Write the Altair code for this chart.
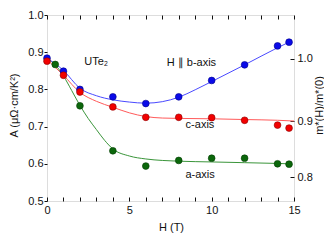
import altair as alt
import pandas as pd

# ---- data ----
H_b = [0, 1, 2, 4, 6, 8, 10, 12, 14, 14.7]
A_b = [0.884, 0.849, 0.800, 0.780, 0.762, 0.780, 0.824, 0.866, 0.917, 0.927]
H_c = [0, 1, 2, 4, 6, 8, 10, 12, 14, 14.7]
A_c = [0.876, 0.838, 0.793, 0.753, 0.725, 0.725, 0.724, 0.717, 0.704, 0.696]
H_a = [0.5, 2, 4, 6, 8, 10, 12, 14, 14.7]
A_a = [0.867, 0.756, 0.635, 0.594, 0.609, 0.615, 0.615, 0.600, 0.599]

# fit curves
Hb_fit = [0, 1, 2, 3, 4, 5, 6, 7, 8, 9, 10, 12, 14, 14.7]
Ab_fit = [0.884, 0.851, 0.803, 0.783, 0.772, 0.766, 0.763, 0.767, 0.779, 0.799, 0.821, 0.866, 0.912, 0.927]
Hc_fit = [0, 1, 2, 3, 4, 5, 6, 7, 8, 10, 12, 14, 15]
Ac_fit = [0.880, 0.838, 0.792, 0.768, 0.752, 0.737, 0.727, 0.723, 0.722, 0.721, 0.719, 0.717, 0.715]
Ha_fit = [0, 0.5, 1, 1.5, 2, 2.5, 3, 3.5, 4, 5, 6, 7, 8, 10, 12, 14, 14.7]
Aa_fit = [0.882, 0.866, 0.836, 0.797, 0.757, 0.722, 0.692, 0.663, 0.640, 0.621, 0.613, 0.609, 0.607, 0.605, 0.603, 0.601, 0.600]

x_ticks = list(range(0, 16))
y_ticks = [0.5, 0.6, 0.7, 0.8, 0.9, 1.0]
r_ticks = [0.8, 0.9, 1.0]      # right axis m*(H)/m*(0)
A0 = 0.882                     # A at H=0 used for m* ratio = sqrt(A/A0)

labels = ["UTe₂", "H ∥ b-axis", "c-axis", "a-axis"]
label_H = [2.99, 8.77, 9.29, 9.30]
label_A = [0.873, 0.871, 0.703, 0.570]

FONT = "Liberation Sans"
TXT = "#111111"

pts = pd.concat([
    pd.DataFrame({"H": H_a, "A": A_a, "s": "a"}),
    pd.DataFrame({"H": H_b, "A": A_b, "s": "b"}),
    pd.DataFrame({"H": H_c, "A": A_c, "s": "c"}),
])
fit = pd.concat([
    pd.DataFrame({"H": Ha_fit, "A": Aa_fit, "s": "a"}),
    pd.DataFrame({"H": Hc_fit, "A": Ac_fit, "s": "c"}),
    pd.DataFrame({"H": Hb_fit, "A": Ab_fit, "s": "b"}),
])
ann = pd.DataFrame({"t": labels, "H": label_H, "A": label_A})

xs = alt.Scale(domain=[0, 15], nice=False, zero=False)
ys = alt.Scale(domain=[0.5, 1.0], nice=False, zero=False)

common_axis = dict(labelFont=FONT, labelFontSize=11, labelColor=TXT, tickColor=TXT,
                   titleFont=FONT, titleFontSize=11, titleColor=TXT, titleFontWeight="normal",
                   domain=False, grid=False)

x_bottom = alt.Axis(orient="bottom", values=x_ticks, offset=-4, tickSize=4, labelPadding=3,
                    labelExpr="datum.value % 5 == 0 ? datum.label : ''", labelFlush=False,
                    labelOverlap=False, title="H (T)", titleX=124, titleY=30,
                    titleBaseline="middle", **common_axis)
x_top = alt.Axis(orient="top", values=x_ticks, offset=-4, tickSize=4, labels=False,
                 title=None, **{k: v for k, v in common_axis.items() if not k.startswith("title")})
y_left = alt.Axis(orient="left", values=y_ticks, format=".1f", tickSize=3, labelPadding=1,
                  title="A (μΩ·cm/K²)", titleX=-33, titleY=90, titleAngle=270,
                  titleBaseline="middle", titleAlign="center", **common_axis)
y_right = alt.Axis(orient="right", values=[A0 * r * r for r in r_ticks], offset=-4, tickSize=4,
                   labelPadding=3, labelExpr=f"format(sqrt(datum.value/{A0}), '.1f')",
                   title="m*(H)/m*(0)", titleX=29.5, titleY=90, titleAngle=270,
                   titleBaseline="middle", titleAlign="center", **common_axis)

line_colors = alt.Scale(domain=["a", "b", "c"], range=["#3a953a", "#4a4aff", "#ff5a5a"])
fill_colors = alt.Scale(domain=["a", "b", "c"], range=["#0b670b", "#0a0ae8", "#f20000"])
edge_colors = alt.Scale(domain=["a", "b", "c"], range=["#033d03", "#00008a", "#8a0000"])

lines = alt.Chart(fit).mark_line(strokeWidth=1, interpolate="monotone").encode(
    x=alt.X("H:Q", scale=xs, axis=x_bottom),
    y=alt.Y("A:Q", scale=ys, axis=y_left),
    color=alt.Color("s:N", scale=line_colors, legend=None),
    detail="s:N",
)

points = alt.Chart(pts).mark_point(filled=True, size=46, opacity=1, strokeWidth=0.6, shape="circle").encode(
    x=alt.X("H:Q", scale=xs, axis=None),
    y=alt.Y("A:Q", scale=ys, axis=None),
    fill=alt.Fill("s:N", scale=fill_colors, legend=None),
    stroke=alt.Stroke("s:N", scale=edge_colors, legend=None),
    order=alt.Order("s:N"),
)

top_axis = alt.Chart(pts).mark_point(opacity=0).encode(
    x=alt.X("H:Q", scale=xs, axis=x_top),
    y=alt.Y("A:Q", scale=ys, axis=y_right),
)

texts = alt.Chart(ann).mark_text(font=FONT, fontSize=11, color=TXT, align="center",
                                 baseline="middle").encode(
    x=alt.X("H:Q", scale=xs, axis=None),
    y=alt.Y("A:Q", scale=ys, axis=None),
    text="t:N",
)

chart = alt.layer(lines, points, top_axis, texts).resolve_axis(
    x="independent", y="independent"
).resolve_scale(color="independent", fill="independent", stroke="independent").properties(
    width=247, height=186,
    padding={"left": 39, "top": 7, "right": 30, "bottom": 33},
    autosize=alt.AutoSizeParams(type="none"),
).configure_view(stroke="#111111", strokeWidth=1).configure(background="white")

chart.save("out.html", embed_options={"renderer": "svg", "actions": False})
